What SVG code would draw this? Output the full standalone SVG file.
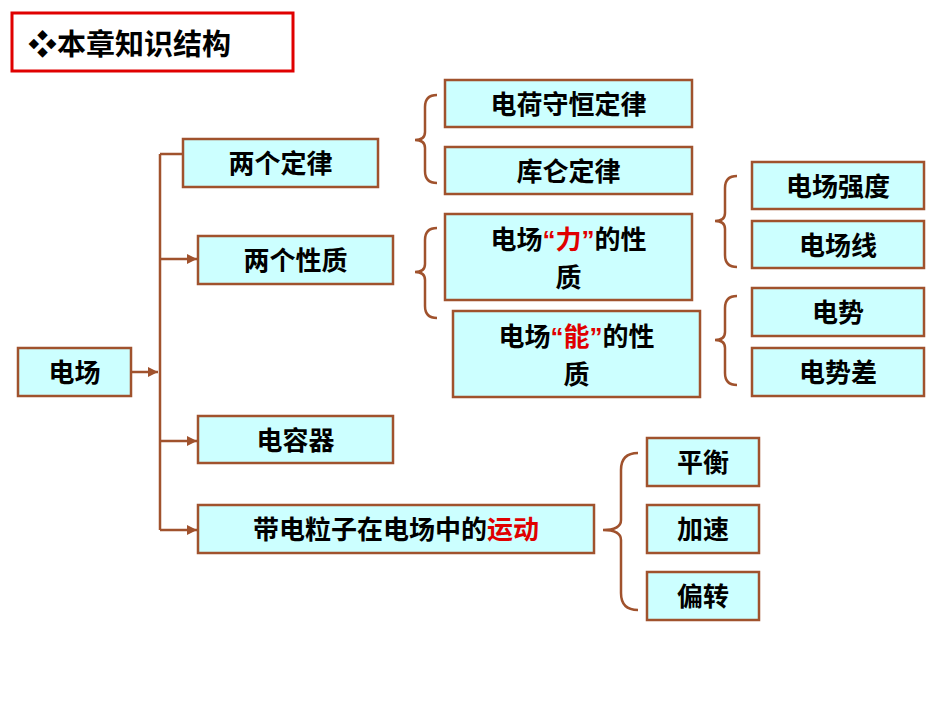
<svg xmlns="http://www.w3.org/2000/svg" width="950" height="713" viewBox="0 0 950 713">
<style>
.n{fill:#ccffff;stroke:#a0522d;stroke-width:2.5}
.t{font-family:"Liberation Sans","Noto Sans CJK SC",sans-serif;font-weight:bold;font-size:26px;fill:#000;text-anchor:middle}
.r{fill:#e00000}
.c{fill:none;stroke:#a0522d;stroke-width:2.5}
</style>
<defs><marker id="a" viewBox="0 0 10 10" refX="10" refY="5" markerWidth="4" markerHeight="4" orient="auto"><path d="M0,0L10,5L0,10z" fill="#a0522d"/></marker></defs>
<rect x="12" y="13" width="281" height="58" fill="#fff" stroke="#e00000" stroke-width="3"/>
<text x="28" y="55" style="font-family:'Liberation Sans','Noto Sans CJK SC',sans-serif;font-weight:bold;font-size:29px">❖本章知识结构</text>
<g id="connectors">
<path class="c" d="M131,372H158" marker-end="url(#a)"/>
<path class="c" d="M160,154V530"/>
<path class="c" d="M160,154H197" marker-end="url(#a)"/>
<path class="c" d="M160,259H197" marker-end="url(#a)"/>
<path class="c" d="M160,441H197" marker-end="url(#a)"/>
<path class="c" d="M160,530H197" marker-end="url(#a)"/>
<path class="c" d="M437,95Q425,95 425,107V132Q425,140 415,140Q425,140 425,148V171Q425,183 437,183"/>
<path class="c" d="M437,228Q425,228 425,240V264Q425,272 415,272Q425,272 425,280V306Q425,318 437,318"/>
<path class="c" d="M737,176Q725,176 725,188V213Q725,221 715,221Q725,221 725,229V255Q725,267 737,267"/>
<path class="c" d="M737,296Q725,296 725,308V332Q725,340 715,340Q725,340 725,348V373Q725,385 737,385"/>
<path class="c" d="M638,453Q621,453 621,470V520Q621,530 603,530Q621,530 621,540V593Q621,610 638,610"/>
</g>
<g id="n1"><rect class="n" x="18" y="348" width="113" height="48"/><text class="t" x="74.5" y="382">电场</text></g>
<g id="n2"><rect class="n" x="183" y="139" width="195" height="48"/><text class="t" x="280.5" y="173">两个定律</text></g>
<g id="n3"><rect class="n" x="198" y="236" width="195" height="48"/><text class="t" x="295.5" y="270">两个性质</text></g>
<g id="n4"><rect class="n" x="198" y="416" width="195" height="47"/><text class="t" x="295.5" y="450">电容器</text></g>
<g id="n5"><rect class="n" x="198" y="505" width="396" height="48"/><text class="t" x="396" y="539">带电粒子在电场中的<tspan class="r">运动</tspan></text></g>
<g id="n6"><rect class="n" x="445" y="80" width="247" height="47"/><text class="t" x="568.5" y="114">电荷守恒定律</text></g>
<g id="n7"><rect class="n" x="445" y="147" width="247" height="47"/><text class="t" x="568.5" y="181">库仑定律</text></g>
<g id="n8"><rect class="n" x="445" y="214" width="247" height="86"/><text class="t" x="568.5" y="249">电场<tspan class="r">“力”</tspan>的性</text><text class="t" x="568.5" y="287">质</text></g>
<g id="n9"><rect class="n" x="453" y="311" width="247" height="86"/><text class="t" x="576.5" y="346">电场<tspan class="r">“能”</tspan>的性</text><text class="t" x="576.5" y="384">质</text></g>
<g id="n10"><rect class="n" x="752" y="162" width="172" height="47"/><text class="t" x="838" y="196">电场强度</text></g>
<g id="n11"><rect class="n" x="752" y="221" width="172" height="47"/><text class="t" x="838" y="255">电场线</text></g>
<g id="n12"><rect class="n" x="752" y="288" width="172" height="48"/><text class="t" x="838" y="322">电势</text></g>
<g id="n13"><rect class="n" x="752" y="348" width="172" height="48"/><text class="t" x="838" y="382">电势差</text></g>
<g id="n14"><rect class="n" x="647" y="438" width="112" height="48"/><text class="t" x="703" y="472">平衡</text></g>
<g id="n15"><rect class="n" x="647" y="505" width="112" height="48"/><text class="t" x="703" y="539">加速</text></g>
<g id="n16"><rect class="n" x="647" y="572" width="112" height="48"/><text class="t" x="703" y="606">偏转</text></g>
</svg>
